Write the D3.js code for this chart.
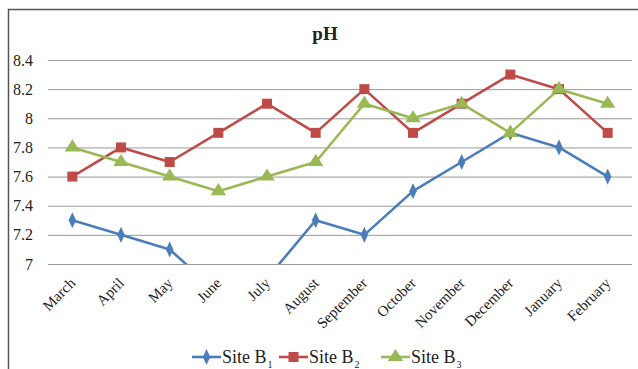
<!DOCTYPE html>
<html>
<head>
<meta charset="utf-8">
<script src="https://cdn.jsdelivr.net/npm/d3@7"></script>
<style>
  html, body { margin: 0; padding: 0; background: #fff; }
</style>
</head>
<body>
<svg id="chart" width="638" height="369"></svg>
<script>
// Monthly pH readings at three sites
const months = ["March", "April", "May", "June", "July", "August", "September",
                "October", "November", "December", "January", "February"];
const siteB1 = [7.3, 7.2, 7.1, 6.8, 6.9, 7.3, 7.2, 7.5, 7.7, 7.9, 7.8, 7.6];
const siteB2 = [7.6, 7.8, 7.7, 7.9, 8.1, 7.9, 8.2, 7.9, 8.1, 8.3, 8.2, 7.9];
const siteB3 = [7.8, 7.7, 7.6, 7.5, 7.6, 7.7, 8.1, 8.0, 8.1, 7.9, 8.2, 8.1];
const yTicks = [7, 7.2, 7.4, 7.6, 7.8, 8, 8.2, 8.4];

const FONT = "Liberation Serif";

const series = [
  { name: "Site B", sub: "1", values: siteB1, color: "#4a7ebb", symbol: d3.symbolDiamond, size: 75, scaleX: 0.8 },
  { name: "Site B", sub: "2", values: siteB2, color: "#be4b48", symbol: d3.symbolSquare, size: 100, scaleX: 1 },
  { name: "Site B", sub: "3", values: siteB3, color: "#98b954", symbol: d3.symbolTriangle, size: 85, scaleX: 1.1 }
];

const svg = d3.select("#chart").attr("font-family", FONT);
const plot = { left: 48, right: 632, top: 60, bottom: 264 };

// Outer chart frame
svg.append("path")
  .attr("d", "M8.5,400 V9.5 H640")
  .attr("fill", "none")
  .attr("stroke", "#555")
  .attr("stroke-width", 1.5);

const x = d3.scaleBand().domain(months).range([plot.left, plot.right]);
const y = d3.scaleLinear().domain([7, 8.4]).range([plot.bottom, plot.top]);
const cx = m => x(m) + x.bandwidth() / 2;

// Title
svg.append("text")
  .attr("x", 325).attr("y", 40)
  .attr("text-anchor", "middle")
  .attr("font-family", FONT)
  .attr("font-weight", "bold")
  .attr("font-size", 19)
  .attr("fill", "#222")
  .text("pH");

// Horizontal gridlines and y labels
const yAxis = d3.axisLeft(y).tickValues(yTicks)
  .tickSize(-(plot.right - plot.left))
  .tickFormat(d => d3.format("")(d));
const gy = svg.append("g").attr("transform", `translate(${plot.left},0)`).call(yAxis);
gy.attr("font-family", FONT);
gy.select(".domain").remove();
gy.selectAll(".tick line").attr("stroke", "#999").attr("stroke-width", 1);
gy.selectAll(".tick text")
  .attr("x", -15)
  .attr("font-family", FONT)
  .attr("font-size", 16)
  .attr("fill", "#222");

// Rotated month labels
const xAxis = d3.axisBottom(x).tickSize(0).tickPadding(0);
const gx = svg.append("g").attr("transform", `translate(0,${plot.bottom})`).call(xAxis);
gx.attr("font-family", FONT);
gx.select(".domain").remove();
gx.selectAll(".tick text")
  .attr("font-family", FONT)
  .attr("font-size", 15)
  .attr("fill", "#222")
  .attr("text-anchor", "end")
  .attr("dy", null)
  .attr("y", 0)
  .attr("transform", "translate(4,20) rotate(-45)");

// Lines and markers, clipped to the plot area
svg.append("clipPath").attr("id", "plotClip")
  .append("rect")
  .attr("x", plot.left - 10).attr("y", plot.top - 10)
  .attr("width", plot.right - plot.left + 20)
  .attr("height", plot.bottom - plot.top + 10);

const plotG = svg.append("g").attr("clip-path", "url(#plotClip)");
const line = d3.line().x((d, i) => cx(months[i])).y(d => y(d));

series.forEach(s => {
  plotG.append("path")
    .datum(s.values)
    .attr("d", line)
    .attr("fill", "none")
    .attr("stroke", s.color)
    .attr("stroke-width", 2.6)
    .attr("stroke-linejoin", "round");
});

series.forEach(s => {
  plotG.selectAll(null)
    .data(s.values.map((v, i) => ({ v, m: months[i] })).filter(d => d.v >= 7))
    .join("path")
    .attr("d", d3.symbol().type(s.symbol).size(s.size))
    .attr("transform", d => `translate(${cx(d.m)},${y(d.v)}) scale(${s.scaleX},1)`)
    .attr("fill", s.color);
});

// Legend
const legendX = [192, 279, 381];
const legend = svg.append("g");
series.forEach((s, i) => {
  const g = legend.append("g").attr("transform", `translate(${legendX[i]},357)`);
  g.append("line").attr("x1", 0).attr("x2", 29).attr("y1", 0).attr("y2", 0)
    .attr("stroke", s.color).attr("stroke-width", 2.6);
  g.append("path")
    .attr("d", d3.symbol().type(s.symbol).size(s.size))
    .attr("transform", `translate(14.5,0) scale(${s.scaleX},1)`)
    .attr("fill", s.color);
  const t = g.append("text").attr("x", 30).attr("y", 6)
    .attr("font-family", FONT)
    .attr("font-size", 18).attr("fill", "#222");
  t.append("tspan").text(s.name);
  t.append("tspan").attr("font-size", 10).attr("dy", 5).attr("dx", 1).text(s.sub);
});
</script>
</body>
</html>
